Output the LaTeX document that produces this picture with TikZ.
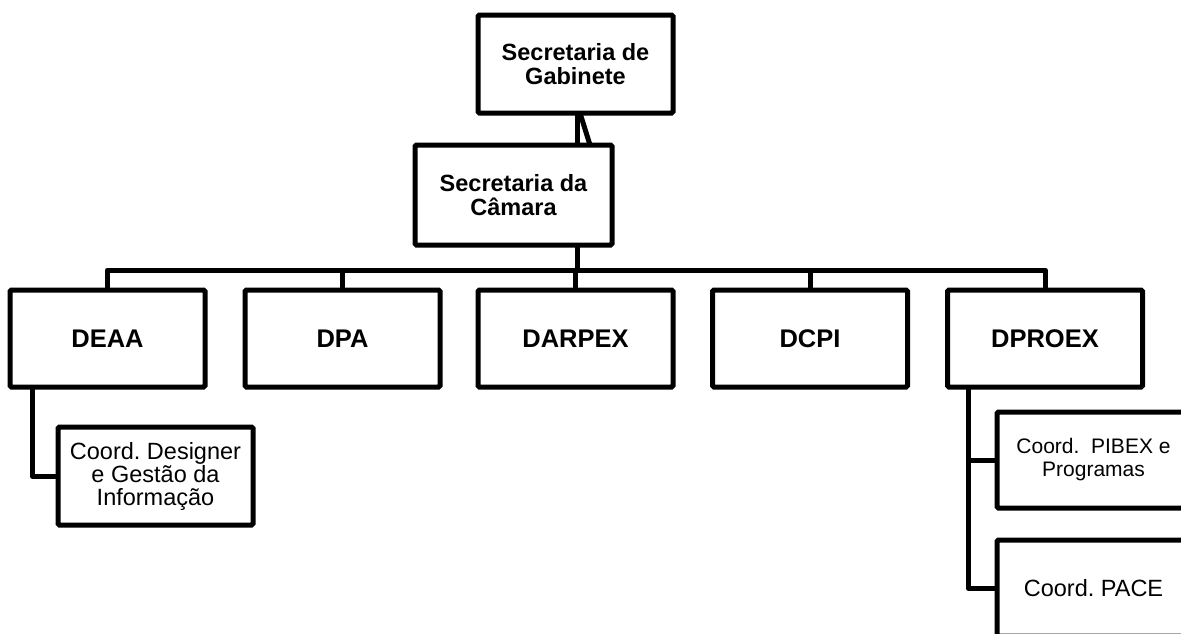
\documentclass[tikz,border=0pt]{standalone}
\usepackage{fontspec}
\setmainfont{Liberation Sans}
\frenchspacing
\tikzset{
  box/.style={draw=black, line width=5pt, rounded corners=1.5pt, fill=white, inner sep=0pt, outer sep=0pt, align=center, text=black},
  big/.style={box, minimum width=195pt, minimum height=97pt, font=\fontsize{25.5}{26}\selectfont\bfseries},
  sec/.style={box, font=\fontsize{23.5}{23.3}\selectfont\bfseries},
  sub/.style={box, font=\fontsize{23.5}{23}\selectfont},
  conn/.style={draw=black, line width=5pt}
}
\begin{document}
\begin{tikzpicture}[x=1pt, y=-1pt]
\useasboundingbox (0,0) rectangle (1181,633);
\clip (0,0) rectangle (1181,633);
\fill[white] (0,0) rectangle (1181,633);

\coordinate (bus) at (0,270);

% connectors first (boxes drawn on top)
\node[sec, minimum width=195pt, minimum height=98pt] (gab) at (575.5,64) {Secretaria de\\Gabinete};
\node[sec, minimum width=197pt, minimum height=100pt] (cam) at (513.5,195) {Secretaria da\\Câmara};

\node[big] (deaa) at (107.5,338.5) {DEAA};
\node[big] (dpa) at (342.5,338.5) {DPA};
\node[big] (darpex) at (575.5,338.5) {DARPEX};
\node[big] (dcpi) at (810,338.5) {DCPI};
\node[big] (dproex) at (1045,338.5) {DPROEX};

\node[sub, minimum width=195pt, minimum height=98pt] (designer) at (155.5,476) {Coord. Designer\\e Gestão da\\Informação};
\node[sub, font=\fontsize{21}{23}\selectfont, minimum width=193pt, minimum height=96pt] (pibex) at (1093.5,460) {Coord.\ \ PIBEX e\\Programas};
\node[sub, minimum width=193pt, minimum height=96pt] (pace) at (1093.5,588) {Coord. PACE};

% top connectors
\draw[conn] ([xshift=1.5pt]gab.south) -- ([xshift=1.5pt]gab.south |- cam.north);
\draw[conn] ([xshift=4.5pt]gab.south) -- ([xshift=14.5pt]gab.south |- cam.north);
\draw[conn] ([xshift=63.5pt]cam.south) -- ([xshift=63.5pt]cam.south |- bus);

% bus
\draw[conn, line join=round] (deaa.north) |- (dproex.north |- bus) -- (dproex.north);
\draw[conn] (dpa.north) -- (dpa.north |- bus);
\draw[conn] (darpex.north) -- (darpex.north |- bus);
\draw[conn] (dcpi.north) -- (dcpi.north |- bus);

% sub connectors
\draw[conn, line join=round] ([xshift=-75.5pt]deaa.south) |- (designer.west);
\draw[conn, line join=round] ([xshift=-77pt]dproex.south) |- (pace.west);
\draw[conn] ([xshift=-77pt]dproex.south |- pibex.west) -- (pibex.west);
\end{tikzpicture}
\end{document}
